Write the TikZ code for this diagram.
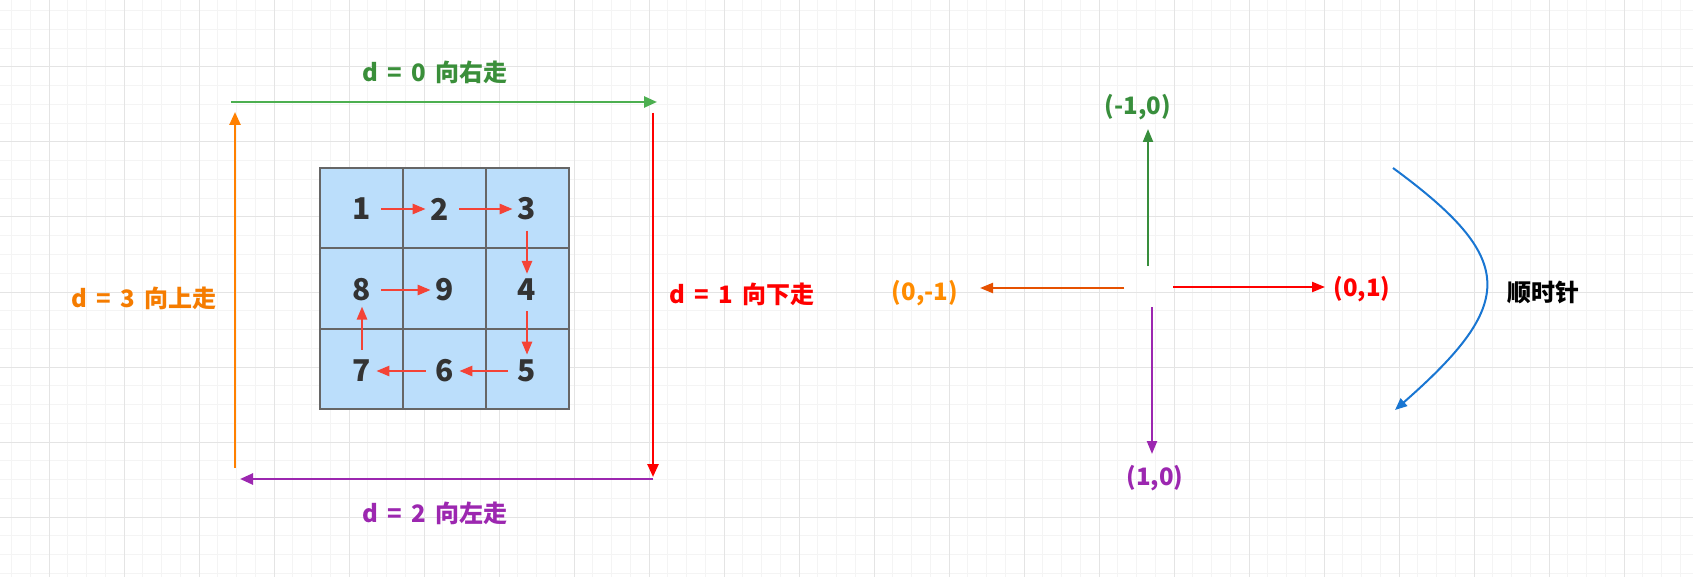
\documentclass[tikz,border=0pt]{standalone}
\usepackage{fontspec}
\setmainfont{Noto Sans CJK SC}
\usetikzlibrary{arrows.meta}
\definecolor{minorg}{HTML}{F4F4F4}
\definecolor{majorg}{HTML}{E4E4E4}
\definecolor{lgreen}{HTML}{4CAF50}
\definecolor{tgreen}{HTML}{3A8F3A}
\definecolor{dgreen}{HTML}{388E3C}
\definecolor{myred}{HTML}{FF0000}
\definecolor{mypurple}{HTML}{9C27B0}
\definecolor{myorange}{HTML}{FF8000}
\definecolor{torange}{HTML}{F57C00}
\definecolor{dorange}{HTML}{E65100}
\definecolor{lorange}{HTML}{FF8C00}
\definecolor{myblue}{HTML}{1976D2}
\definecolor{cellred}{HTML}{F44336}
\definecolor{cellblue}{HTML}{BBDEFB}
\definecolor{cellline}{HTML}{666666}
\definecolor{numcol}{HTML}{333333}
\newcommand\gapsp{\hspace{9pt}}
\begin{document}
\begin{tikzpicture}[x=1pt,y=-1pt,
  minorline/.style={draw=minorg,line width=1pt},
  majorline/.style={draw=majorg,line width=1pt},
  bigarrow/.style={line width=2.5pt,-{Triangle[length=13pt,width=11pt]}},
  crossarrow/.style={line width=2.2pt,-{Triangle[length=13pt,width=10pt]}},
  cellarrow/.style={draw=cellred,line width=2.5pt,-{Triangle[length=13pt,width=10pt]},shorten <=10pt,shorten >=5pt},
  cell/.style={draw=cellline,line width=2pt,fill=cellblue,minimum width=83pt,minimum height=80.3pt,inner sep=0pt},
  num/.style={inner sep=0pt,text=numcol,font=\fontsize{30}{32}\selectfont\bfseries},
  lbl/.style={inner sep=0pt,font=\fontsize{24}{28}\selectfont\bfseries},
  clbl/.style={inner sep=0pt,font=\fontsize{24}{28}\selectfont\bfseries}]
\useasboundingbox (0,0) rectangle (1693,577);
\fill[white] (0,0) rectangle (1693,577);
\begin{scope}
\clip (0,0) rectangle (1693,577);
\foreach \i in {-3,...,88} {\draw[minorline] ({49+18.75*\i},0) -- ({49+18.75*\i},577);}
\foreach \j in {-4,...,28} {\draw[minorline] (0,{67+18.75*\j}) -- (1693,{67+18.75*\j});}
\foreach \i in {-1,...,22} {\draw[majorline] ({49+75*\i},0) -- ({49+75*\i},577);}
\foreach \j in {-1,...,7} {\draw[majorline] (0,{67+75*\j}) -- (1693,{67+75*\j});}
\end{scope}

% cells
\node[cell] (c11) at (361.5,208.2) {};
\node[cell] (c12) at (444.5,208.2) {};
\node[cell] (c13) at (527.5,208.2) {};
\node[cell] (c21) at (361.5,288.5) {};
\node[cell] (c22) at (444.5,288.5) {};
\node[cell] (c23) at (527.5,288.5) {};
\node[cell] (c31) at (361.5,368.8) {};
\node[cell] (c32) at (444.5,368.8) {};
\node[cell] (c33) at (527.5,368.8) {};

% numbers
\node[num] (n1) at (362,209) {1};
\node[num] (n2) at (440,209) {2};
\node[num] (n3) at (527,209) {3};
\node[num] (n8) at (362,290) {8};
\node[num] (n9) at (445,290) {9};
\node[num] (n4) at (527,290) {4};
\node[num] (n7) at (362,371) {7};
\node[num] (n6) at (445,371) {6};
\node[num] (n5) at (527,371) {5};

\draw[cellarrow] (n1.east) -- (n2.west);
\draw[cellarrow] (n2.east) -- (n3.west);
\draw[cellarrow] (n3.south) -- (n4.north);
\draw[cellarrow] (n4.south) -- (n5.north);
\draw[cellarrow] (n5.west) -- (n6.east);
\draw[cellarrow] (n6.west) -- (n7.east);
\draw[cellarrow] (n7.north) -- (n8.south);
\draw[cellarrow] (n8.east) -- (n9.west);

% frame arrows
\coordinate (g0) at (231,102);
\coordinate (g1) at (657,102);
\coordinate (r0) at (653,113);
\coordinate (r1) at (653,477);
\coordinate (p0) at (653,479);
\coordinate (p1) at (240,479);
\coordinate (o0) at (235,468);
\coordinate (o1) at (235,112);
\draw[bigarrow,draw=lgreen,fill=lgreen] (g0) -- (g1);
\draw[bigarrow,draw=myred,fill=myred] (r0) -- (r1);
\draw[bigarrow,draw=mypurple,fill=mypurple] (p0) -- (p1);
\draw[bigarrow,draw=myorange,fill=myorange] (o0) -- (o1);

\node[lbl,text=tgreen] (l0) at (435,72) {d\gapsp{}=\gapsp{}0\gapsp{}向右走};
\node[lbl,text=myred] (l1) at (742,294) {d\gapsp{}=\gapsp{}1\gapsp{}向下走};
\node[lbl,text=mypurple] (l2) at (435,513) {d\gapsp{}=\gapsp{}2\gapsp{}向左走};
\node[lbl,text=torange] (l3) at (144,298) {d\gapsp{}=\gapsp{}3\gapsp{}向上走};

% cross
\coordinate (up0) at (1148,266);
\coordinate (up1) at (1148,129);
\coordinate (lf0) at (1124,288);
\coordinate (lf1) at (980,288);
\coordinate (rt0) at (1173,287);
\coordinate (rt1) at (1325,287);
\coordinate (dn0) at (1152,307);
\coordinate (dn1) at (1152,454);
\draw[crossarrow,draw=dgreen,fill=dgreen] (up0) -- (up1);
\draw[crossarrow,draw=dorange,fill=dorange] (lf0) -- (lf1);
\draw[crossarrow,draw=myred,fill=myred] (rt0) -- (rt1);
\draw[crossarrow,draw=mypurple,fill=mypurple] (dn0) -- (dn1);

\node[clbl,text=dgreen] (lu) at (1138,107) {(-1,0)};
\node[clbl,text=lorange] (ll) at (925,293) {(0,-1)};
\node[clbl,text=myred] (lr) at (1362,289) {(0,1)};
\node[clbl,text=mypurple] (ld) at (1155,478) {(1,0)};

% clockwise curve
\coordinate (cw0) at (1393,168);
\coordinate (cw1) at (1395,410);
\draw[myblue,line width=2pt,-{Triangle[length=12pt,width=10pt]}] (cw0) .. controls (1517,259) and (1517,303) .. (cw1);
\node[lbl,text=black] (cw) at (1543,292) {顺时针};
\end{tikzpicture}
\end{document}
